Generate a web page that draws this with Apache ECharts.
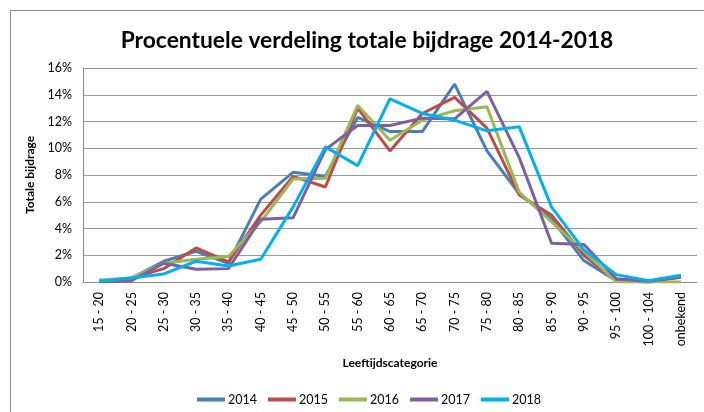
<!DOCTYPE html>
<html>
<head>
<meta charset="utf-8">
<script src="https://cdn.jsdelivr.net/npm/echarts@6/dist/echarts.min.js"></script>
<style>
  html, body { margin: 0; padding: 0; background: #fff; }
  #chart { width: 704px; height: 412px; }
</style>
</head>
<body>
<div id="chart"></div>
<script>
// leeftijdscategorieen
var categories = ['15 - 20', '20 - 25', '25 - 30', '30 - 35', '35 - 40', '40 - 45', '45 - 50',
  '50 - 55', '55 - 60', '60 - 65', '65 - 70', '70 - 75', '75 - 80', '80 - 85', '85 - 90',
  '90 - 95', '95 - 100', '100 - 104', 'onbekend'];

// percentages per jaar
var y2014 = [0.05, 0.3, 1.55, 2.3, 1.4, 6.2, 8.2, 7.9, 12.3, 11.25, 11.25, 14.8, 9.8, 6.6, 4.7, 1.6, 0.1, 0.0, 0.45];
var y2015 = [0.05, 0.3, 1.0, 2.55, 1.5, 5.0, 7.9, 7.1, 13.0, 9.8, 12.6, 13.8, 11.5, 6.5, 5.0, 2.0, 0.1, 0.0, 0.35];
var y2016 = [0.15, 0.3, 1.4, 1.7, 1.9, 4.5, 7.7, 7.75, 13.2, 10.6, 12.1, 12.8, 13.1, 6.7, 4.5, 2.3, 0.0, 0.0, 0.0];
var y2017 = [0.0, 0.1, 1.4, 0.95, 1.0, 4.7, 4.8, 9.9, 11.7, 11.7, 12.25, 12.2, 14.25, 9.3, 2.9, 2.8, 0.25, 0.05, 0.4];
var y2018 = [0.05, 0.3, 0.6, 1.55, 1.2, 1.7, 5.6, 10.1, 8.7, 13.7, 12.6, 12.1, 11.3, 11.6, 5.6, 2.4, 0.55, 0.1, 0.5];

var years = ['2014', '2015', '2016', '2017', '2018'];
var values = [y2014, y2015, y2016, y2017, y2018];
var colors = ['#4a7ebb', '#be4b48', '#98b954', '#7d60a0', '#00b0f0'];

var font = 'Lato, "Open Sans", sans-serif';

var series = years.map(function (name, i) {
  return {
    name: name,
    type: 'line',
    data: values[i],
    symbol: 'none',
    lineStyle: { width: 3, color: colors[i] },
    itemStyle: { color: colors[i] },
    emphasis: { disabled: true }
  };
});

var chart = echarts.init(document.getElementById('chart'));
chart.setOption({
  animation: false,
  textStyle: { fontFamily: font },
  title: {
    text: 'Procentuele verdeling totale bijdrage 2014-2018',
    left: 362,
    textAlign: 'center',
    top: 24,
    textStyle: { fontFamily: font, fontSize: 22.8, fontWeight: 'bold', color: '#000' }
  },
  graphic: [{
    type: 'rect',
    shape: { x: 10.5, y: 10.5, width: 720, height: 420 },
    style: { fill: 'none', stroke: '#8c8c8c', lineWidth: 1 },
    silent: true
  }],
  legend: {
    data: years,
    left: 192,
    top: 388,
    icon: 'rect',
    itemWidth: 28,
    itemHeight: 4,
    itemGap: 11,
    textStyle: { fontFamily: font, fontSize: 12.5, color: '#000', padding: [0, 0, 0, -2] }
  },
  grid: { left: 83, right: 7, top: 68, bottom: 130, containLabel: false },
  xAxis: {
    type: 'category',
    data: categories,
    boundaryGap: true,
    name: 'Leeftijdscategorie',
    nameLocation: 'middle',
    nameGap: 75,
    nameTextStyle: { fontFamily: font, fontSize: 12, fontWeight: 'bold', color: '#000' },
    axisLine: { show: true, lineStyle: { color: '#8c8c8c', width: 1 } },
    axisTick: { show: false },
    axisLabel: { rotate: 90, interval: 0, margin: 10, fontSize: 12.5, color: '#000', fontFamily: font }
  },
  yAxis: {
    type: 'value',
    min: 0,
    max: 16,
    interval: 2,
    name: 'Totale bijdrage',
    nameLocation: 'middle',
    nameGap: 36,
    nameTextStyle: { fontFamily: font, fontSize: 12, fontWeight: 'bold', color: '#000' },
    axisLine: { show: true, lineStyle: { color: '#8c8c8c', width: 1 } },
    axisTick: { show: false },
    axisLabel: { formatter: '{value}%', margin: 11, fontSize: 12.5, color: '#000', fontFamily: font },
    splitLine: { show: true, lineStyle: { color: '#9a9a9a', width: 1 } }
  },
  series: series
});
</script>
</body>
</html>
